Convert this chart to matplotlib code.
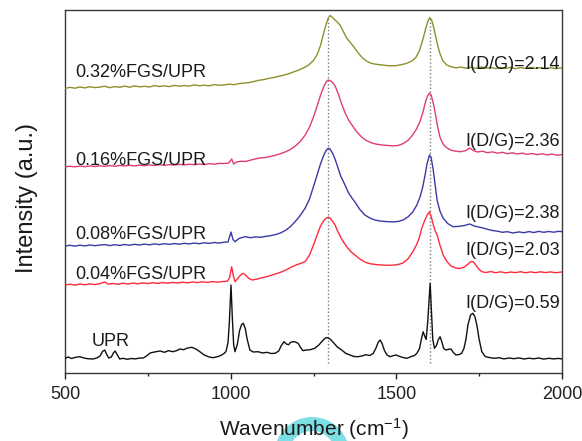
import matplotlib
matplotlib.use('Agg')
import matplotlib.pyplot as plt
from matplotlib.patches import Wedge

plt.rcParams['font.family'] = ['Liberation Sans', 'DejaVu Sans']
plt.rcParams['mathtext.fontset'] = 'custom'
plt.rcParams['mathtext.rm'] = 'Liberation Sans'
plt.rcParams['mathtext.it'] = 'Liberation Sans:italic'

# ---------------- data (wavenumber in cm-1, intensity in a.u., offsets included) -------------
wn_032 = [500,515,530,545,560,575,590,605,620,635,650,665,680,695,710,725,740,755,770,785,800,815,830,845,860,875,890,905,920,935,950,965,980,995,1010,1025,1040,1055,1070,1085,1100,1115,1130,1145,1160,1175,1190,1205,1220,1235,1250,1262,1272,1280,1288,1294,1300,1306,1312,1320,1330,1340,1350,1360,1372,1385,1398,1412,1426,1440,1455,1470,1485,1500,1515,1530,1545,1558,1570,1580,1588,1595,1601,1607,1614,1622,1630,1640,1652,1665,1680,1695,1710,1725,1740,1755,1770,1785,1800,1815,1830,1845,1860,1875,1890,1905,1920,1935,1950,1965,1980,2000]
in_032 = [284.0,285.2,284.3,285.5,284.6,285.8,284.9,285.4,286.3,284.8,285.9,285.2,286.4,285.3,286.6,285.7,286.2,285.5,286.9,286.0,286.7,285.9,287.1,286.3,287.0,286.4,287.6,286.8,287.3,286.7,287.9,287.2,287.6,288.3,287.8,288.9,289.4,289.9,291.0,292.2,292.9,294.1,295.0,296.2,297.3,298.8,300.6,302.4,304.6,307.4,312.0,318.5,328.0,338.5,348.0,354.0,357.0,355.5,353.5,351.0,347.5,341.0,334.5,330.5,325.5,319.5,314.5,311.0,309.0,308.2,307.6,307.0,306.6,306.9,307.8,309.0,311.2,314.5,322.0,333.0,343.0,351.0,355.0,352.0,343.5,331.0,320.5,312.0,307.5,305.8,304.6,305.5,304.2,305.3,304.0,305.6,304.4,305.1,303.9,305.0,304.1,305.2,303.8,304.9,304.0,305.1,304.2,304.9,303.8,304.8,304.0,304.5]

wn_016 = [500,515,530,545,560,575,590,605,620,635,650,665,680,695,710,725,740,755,770,785,800,815,830,845,860,875,890,905,920,935,950,965,980,995,1003,1009,1018,1030,1045,1060,1075,1090,1105,1120,1135,1150,1165,1180,1195,1210,1225,1238,1250,1262,1272,1280,1288,1294,1300,1308,1316,1325,1335,1345,1355,1366,1380,1395,1410,1425,1440,1457,1475,1490,1505,1520,1535,1548,1560,1571,1580,1588,1594,1600,1605,1611,1617,1624,1632,1642,1653,1666,1680,1695,1710,1722,1732,1745,1760,1775,1790,1805,1820,1835,1850,1865,1880,1895,1910,1925,1940,1955,1970,1985,2000]
in_016 = [205.5,206.3,205.6,206.5,205.8,206.6,205.9,206.8,206.1,207.0,206.2,207.1,206.5,207.2,206.6,207.4,206.8,207.6,207.0,207.8,207.2,207.9,207.4,208.1,207.6,208.3,207.8,208.5,208.0,208.8,208.3,209.1,209.0,209.6,213.5,208.5,210.5,211.2,211.0,212.4,213.6,214.6,215.0,216.1,217.2,218.8,220.6,223.0,226.4,231.0,237.5,245.5,255.5,267.5,278.0,285.0,290.5,292.5,292.0,290.0,286.0,278.5,268.5,260.0,253.0,247.5,241.0,235.5,231.8,229.6,228.3,227.5,227.0,226.6,227.0,228.8,232.0,237.0,243.0,250.5,260.0,270.5,276.5,279.5,277.5,270.0,260.5,247.0,235.0,228.0,224.5,222.2,221.2,220.8,222.0,224.5,222.0,220.5,221.3,219.8,220.6,219.3,220.2,218.8,219.7,218.5,219.4,218.2,219.0,217.8,218.8,217.6,218.4,217.3,217.8]

wn_008 = [500,515,530,545,560,575,590,605,620,635,650,665,680,695,710,725,740,755,770,785,800,815,830,845,860,875,890,905,920,935,950,965,980,992,1001,1007,1013,1025,1043,1060,1075,1090,1104,1120,1135,1150,1165,1180,1195,1210,1225,1238,1250,1260,1270,1280,1288,1294,1300,1308,1315,1322,1332,1345,1355,1365,1375,1390,1405,1420,1435,1450,1470,1490,1505,1520,1535,1550,1562,1572,1580,1587,1593,1600,1605,1611,1617,1623,1632,1641,1655,1671,1690,1705,1722,1735,1758,1775,1790,1805,1820,1835,1852,1870,1885,1900,1915,1930,1945,1960,1975,1990,2000]
in_008 = [126.5,127.2,126.4,127.3,126.6,127.5,126.8,127.4,127.9,126.9,127.8,127.1,128.0,127.3,128.2,127.5,128.4,127.7,128.6,127.9,128.8,128.1,129.0,128.3,129.2,128.6,129.4,128.8,129.7,129.1,130.0,129.4,130.3,130.5,140.5,133.0,130.8,134.0,135.8,134.8,135.6,135.2,136.0,136.8,137.9,139.5,142.0,145.8,151.0,157.0,164.5,173.5,186.0,196.5,207.5,216.5,222.0,224.2,223.5,219.0,213.5,206.5,196.5,187.5,180.0,175.0,170.5,163.0,157.5,154.5,152.5,151.5,150.9,150.6,151.0,152.5,155.5,160.8,167.5,176.0,186.0,198.0,209.0,217.5,215.0,203.5,188.0,172.5,161.0,154.5,149.0,145.8,146.2,147.0,148.5,146.5,144.8,143.2,142.0,141.3,140.2,140.8,139.5,140.6,139.8,140.9,140.0,141.1,140.2,141.0,140.3,141.2,140.8]

wn_004 = [500,515,530,545,560,575,590,605,620,630,645,660,675,690,705,720,735,750,765,780,795,810,825,840,855,870,885,900,915,930,945,960,975,990,997,1003,1008,1013,1020,1030,1038,1046,1055,1065,1080,1095,1110,1125,1140,1155,1170,1185,1200,1215,1225,1238,1250,1262,1270,1278,1286,1294,1300,1308,1315,1322,1331,1340,1352,1364,1375,1390,1405,1420,1440,1460,1480,1496,1510,1520,1535,1550,1562,1570,1577,1585,1593,1600,1606,1612,1618,1623,1632,1642,1653,1665,1680,1692,1705,1715,1725,1733,1742,1750,1758,1770,1785,1800,1815,1830,1845,1860,1875,1890,1905,1920,1935,1950,1965,1980,2000]
in_004 = [87.5,88.3,87.4,88.5,87.7,88.6,87.9,88.8,90.5,88.4,89.0,88.2,89.3,88.5,89.4,88.7,89.6,88.9,89.8,89.1,90.0,89.3,90.1,89.5,90.3,89.7,90.5,89.9,90.7,90.1,90.9,90.3,91.0,91.2,95.0,105.8,97.0,90.8,93.5,97.5,99.2,97.0,94.0,92.5,93.5,94.8,96.0,97.5,99.0,100.8,103.0,105.8,107.8,109.5,111.0,117.5,127.5,138.5,145.5,150.5,153.8,155.2,154.5,151.0,147.5,142.0,136.0,130.8,125.0,120.5,117.5,113.5,110.5,108.8,107.9,107.4,107.2,107.5,108.4,109.5,113.5,120.8,128.5,135.5,144.5,151.5,157.5,160.8,155.0,147.0,141.0,137.5,127.0,117.0,110.8,106.5,104.4,104.0,105.5,108.0,111.0,110.5,106.5,103.0,100.8,100.0,100.9,99.8,100.7,99.6,100.5,99.9,100.8,99.7,100.6,99.8,100.7,99.9,100.6,99.8,100.5]

wn_upr = [500,510,520,532,545,556,568,585,598,606,613,620,626,632,640,646,651,657,665,675,688,700,712,724,736,746,757,770,787,800,812,826,838,847,858,870,883,895,907,920,935,947,960,970,980,986,992,996,1001,1005,1009,1013,1020,1027,1033,1038,1044,1050,1058,1068,1083,1096,1110,1122,1134,1145,1153,1161,1168,1175,1181,1188,1196,1204,1211,1218,1228,1240,1254,1266,1278,1286,1292,1300,1310,1322,1335,1348,1360,1372,1384,1396,1408,1420,1430,1438,1445,1451,1457,1464,1472,1481,1492,1500,1510,1520,1532,1545,1555,1562,1570,1576,1581,1586,1590,1595,1602,1606,1610,1615,1621,1627,1632,1637,1643,1650,1658,1665,1672,1680,1690,1697,1704,1710,1716,1724,1731,1737,1743,1750,1758,1768,1780,1795,1810,1825,1840,1855,1870,1885,1900,1915,1930,1945,1960,1975,1990,2000]
in_upr = [14.2,15.5,14.0,15.2,15.8,14.6,13.8,13.5,14.8,16.5,21.0,22.5,18.0,14.5,15.5,19.5,21.5,18.0,13.5,14.2,13.2,14.0,13.6,14.4,14.5,16.5,19.5,20.5,21.5,20.2,21.8,20.8,22.0,23.5,22.8,24.5,25.2,23.5,20.8,17.5,15.5,14.8,15.8,17.0,19.0,21.0,30.0,50.0,87.5,55.0,28.0,20.8,28.0,42.0,48.0,49.2,44.0,33.0,22.5,20.5,20.8,19.5,20.2,19.0,19.2,21.5,27.0,30.8,28.5,27.8,30.2,30.8,30.5,29.0,25.0,21.8,22.5,22.8,24.2,27.5,32.0,34.5,34.8,33.5,30.0,25.5,22.5,19.0,17.5,16.0,15.8,16.5,17.8,17.0,19.0,24.0,30.0,32.5,29.0,22.0,17.5,15.8,17.0,17.5,16.0,15.0,14.2,16.0,17.0,19.2,24.0,34.0,40.8,36.0,33.0,52.0,89.2,60.0,33.0,24.2,27.0,33.0,35.8,31.0,24.0,22.5,23.2,23.5,20.0,17.5,18.0,19.2,24.0,33.0,47.5,57.5,59.2,56.0,47.5,33.0,20.8,16.0,15.0,14.2,14.8,13.6,14.5,13.8,14.6,13.5,14.3,13.7,14.5,13.4,14.2,13.6,14.1,13.5]

series_labels = ['0.32%FGS/UPR', '0.16%FGS/UPR', '0.08%FGS/UPR', '0.04%FGS/UPR', 'UPR']
ratio_labels = ['I(D/G)=2.14', 'I(D/G)=2.36', 'I(D/G)=2.38', 'I(D/G)=2.03', 'I(D/G)=0.59']
band_positions = [1295, 1602]
x_ticks = [500, 1000, 1500, 2000]
x_minor = [750, 1250, 1750]

# ---------------- styling -------------
colors = ['#8f8f2c', '#e03c7a', '#3a3aa6', '#ff2a3c', '#111111']
left_label_pos = [(531, 295.8), (531, 207.5), (531, 133.5), (531, 93.5), (581, 26.8)]
right_label_pos = [(1994, 304.0), (1994, 226.5), (1994, 154.5), (1994, 117.5), (1994, 64.0)]

fig = plt.figure(figsize=(5.82, 4.41), dpi=100)
ax = fig.add_axes([65/582, 1 - 372.5/441, 497/582, 362.5/441])

curves = [(wn_032, in_032), (wn_016, in_016), (wn_008, in_008), (wn_004, in_004), (wn_upr, in_upr)]
for (xs, ys), c in zip(curves, colors):
    ax.plot(xs, ys, color=c, lw=1.0, zorder=3)

for b in band_positions:
    ax.vlines(b, 9.5, 356, colors='#7a7a7a', linestyles=(0, (1, 1.6)), lw=1.0, zorder=2)

for lab, (x, y) in zip(series_labels, left_label_pos):
    ax.text(x, y, lab, fontsize=13, color='#1a1a1a', ha='left', va='baseline')
for lab, (x, y) in zip(ratio_labels, right_label_pos):
    ax.text(x, y, lab, fontsize=13, color='#1a1a1a', ha='right', va='baseline')

ax.set_xlim(500, 2000)
ax.set_ylim(0, 362.5)
ax.set_xticks(x_ticks)
ax.set_xticks(x_minor, minor=True)
ax.set_xticklabels([str(t) for t in x_ticks])
ax.set_yticks([])
ax.tick_params(axis='x', which='major', direction='out', length=4.3, width=1.0,
               pad=5.5, labelsize=13, colors='#222222')
ax.tick_params(axis='x', which='minor', direction='out', length=2.5, width=1.0, colors='#222222')
for s in ax.spines.values():
    s.set_color('#3a3a3a')
    s.set_linewidth(1.0)

ax.set_xlabel('Wavenumber (cm$^{-1}$)', fontsize=15, color='#1a1a1a')
ax.xaxis.label.set_va('baseline')
ax.xaxis.set_label_coords(0.5, (372.5 - 436) / 362.5)
ax.set_ylabel('Intensity (a.u.)', fontsize=17, color='#1a1a1a')
ax.yaxis.label.set_va('baseline')
ax.yaxis.set_label_coords((33.3 - 65) / 497, (372.5 - 198) / 362.5)

# light cyan ring visible behind the axis title in the reference
ring = Wedge((3.12, -0.135), 0.375, 0, 360, width=0.14, transform=fig.dpi_scale_trans,
             facecolor='#7ddfe4', edgecolor='none', zorder=-1)
fig.add_artist(ring)

fig.savefig('out.png', dpi=100)
